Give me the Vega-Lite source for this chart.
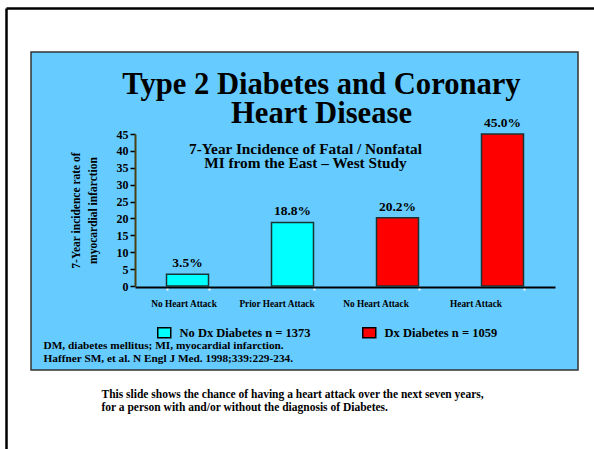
{
  "$schema": "https://vega.github.io/schema/vega-lite/v6.json",
  "width": 547,
  "height": 318,
  "autosize": "none",
  "padding": {"left": 31, "top": 52, "right": 16, "bottom": 79},
  "background": "white",
  "config": {
    "view": {"fill": "#66CCFF", "stroke": "#333333", "strokeWidth": 1.5},
    "font": "Liberation Serif"
  },
  "title": {
    "text": ["Type 2 Diabetes and Coronary", "Heart Disease"],
    "frame": "group",
    "anchor": "middle",
    "orient": "top",
    "offset": -124,
    "dx": 17,
    "font": "Liberation Serif",
    "fontSize": 30.6,
    "fontWeight": "bold",
    "color": "black",
    "lineHeight": 29
  },
  "data": {
    "values": [
      {"key": "a", "label": "No Heart Attack", "group": "No Dx Diabetes n = 1373", "value": 3.5, "text": "3.5%"},
      {"key": "b", "label": "Prior Heart Attack", "group": "No Dx Diabetes n = 1373", "value": 18.8, "text": "18.8%"},
      {"key": "c", "label": "No Heart Attack", "group": "Dx Diabetes n = 1059", "value": 20.2, "text": "20.2%"},
      {"key": "d", "label": "Heart Attack", "group": "Dx Diabetes n = 1059", "value": 45.0, "text": "45.0%"}
    ]
  },
  "encoding": {
    "y": {
      "field": "value",
      "type": "quantitative",
      "scale": {"domain": [0, 45], "range": [234, 82], "nice": false, "zero": true},
      "axis": {
        "orient": "left",
        "offset": -104,
        "values": [0, 5, 10, 15, 20, 25, 30, 35, 40, 45],
        "grid": false,
        "domainColor": "#4a3f10",
        "domainWidth": 2,
        "tickColor": "black",
        "tickSize": 5,
        "tickWidth": 1.5,
        "labelFont": "Liberation Serif",
        "labelFontSize": 12,
        "labelFontWeight": "bold",
        "labelColor": "black",
        "labelPadding": 2,
        "title": ["7-Year incidence rate of", "myocardial infarction"],
        "titleFont": "Liberation Serif",
        "titleFontSize": 11.5,
        "titleFontWeight": "bold",
        "titleColor": "black",
        "titleLineHeight": 17,
        "titlePadding": 18
      }
    }
  },
  "layer": [
    {
      "mark": {"type": "bar", "stroke": "#1a3333", "strokeWidth": 1.5},
      "encoding": {
        "x": {
          "field": "key",
          "type": "nominal",
          "sort": null,
          "scale": {"range": [104, 524], "paddingInner": 0.6, "paddingOuter": 0.3},
          "axis": {
            "orient": "bottom",
            "offset": -83,
            "domainColor": "black",
            "domainWidth": 2,
            "tickBand": "extent",
            "tickColor": "white",
            "tickSize": 3,
            "tickWidth": 2,
            "labelExpr": "datum.value == 'a' ? 'No Heart Attack' : datum.value == 'b' ? 'Prior Heart Attack' : datum.value == 'c' ? 'No Heart Attack' : datum.value == 'd' ? 'Heart Attack' : ''",
            "labelAngle": 0,
            "labelFont": "Liberation Serif",
            "labelFontSize": 9.3,
            "labelFontWeight": "bold",
            "labelColor": "black",
            "labelPadding": 9,
            "labelOffset": {"expr": "datum.value == 'a' ? -4 : datum.value == 'b' ? -16 : datum.value == 'c' ? -22 : -27"},
            "title": ["DM, diabetes mellitus; MI, myocardial infarction.", "Haffner SM, et al. N Engl J Med. 1998;339:229-234."],
            "titleFont": "Liberation Serif",
            "titleFontSize": 11.3,
            "titleFontWeight": "bold",
            "titleColor": "black",
            "titleLineHeight": 13,
            "titleAnchor": "start",
            "titleAlign": "left",
            "titleBaseline": "alphabetic",
            "titleX": 12,
            "titleY": 61
          }
        },
        "fill": {
          "field": "group",
          "type": "nominal",
          "sort": null,
          "scale": {"domain": ["No Dx Diabetes n = 1373", "Dx Diabetes n = 1059"], "range": ["#00FFFF", "#FF0000"]},
          "legend": {
            "orient": "none",
            "legendX": 127,
            "legendY": 274,
            "direction": "horizontal",
            "title": null,
            "padding": 0,
            "columnPadding": 48,
            "symbolType": "M-1.3,-1H1.3V1H-1.3Z",
            "symbolSize": 100,
            "symbolStrokeColor": "black",
            "symbolStrokeWidth": 1.5,
            "labelFont": "Liberation Serif",
            "labelFontSize": 12.5,
            "labelFontWeight": "bold",
            "labelColor": "black",
            "labelOffset": 9,
            "labelLimit": 300
          }
        }
      }
    },
    {
      "mark": {"type": "text", "baseline": "bottom", "dy": -4, "font": "Liberation Serif", "fontSize": 13.5, "fontWeight": "bold", "color": "black"},
      "encoding": {
        "x": {
          "field": "key",
          "type": "nominal",
          "sort": null,
          "scale": {"range": [104, 524], "paddingInner": 0.6, "paddingOuter": 0.3},
          "axis": {
            "orient": "top",
            "domain": false,
            "ticks": false,
            "labels": false,
            "title": ["This slide shows the chance of having a heart attack over the next seven years,", "\u00a0for a person with and/or without the diagnosis of Diabetes."],
            "titleFont": "Liberation Serif",
            "titleFontSize": 11.5,
            "titleFontWeight": "bold",
            "titleColor": "black",
            "titleLineHeight": 13,
            "titleAnchor": "start",
            "titleAlign": "left",
            "titleBaseline": "alphabetic",
            "titleX": 70,
            "titleY": 345
          }
        },
        "y": {"field": "value", "type": "quantitative", "scale": {"domain": [0, 45], "range": [234, 82], "nice": false, "zero": true}, "axis": null},
        "text": {"field": "text"}
      }
    },
    {
      "mark": {"type": "point", "opacity": 0},
      "encoding": {
        "x": {
          "field": "value",
          "type": "quantitative",
          "scale": {"domain": [0, 45], "range": [-25, 570], "nice": false, "zero": false},
          "axis": {
            "orient": "top",
            "offset": 44,
            "domainColor": "black",
            "domainWidth": 2.5,
            "ticks": false,
            "labels": false,
            "grid": false,
            "title": ["7-Year Incidence of Fatal / Nonfatal", "MI from the East – West Study"],
            "titleFont": "Liberation Serif",
            "titleFontSize": 15.3,
            "titleFontWeight": "bold",
            "titleColor": "black",
            "titleLineHeight": 14.5,
            "titleAnchor": "middle",
            "titleAlign": "center",
            "titleBaseline": "alphabetic",
            "titleX": 274,
            "titleY": 145
          }
        },
        "y": {
          "field": "value",
          "type": "quantitative",
          "scale": {"domain": [0, 45], "range": [420, -44], "nice": false, "zero": false},
          "axis": {"orient": "left", "offset": 25, "domainColor": "black", "domainWidth": 2.5, "ticks": false, "labels": false, "title": null, "grid": false}
        }
      }
    }
  ],
  "resolve": {"scale": {"x": "independent", "y": "independent"}, "axis": {"x": "independent", "y": "independent"}}
}
